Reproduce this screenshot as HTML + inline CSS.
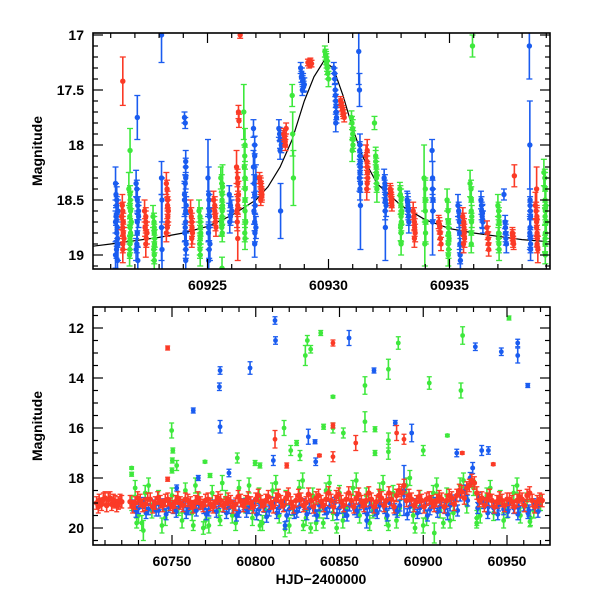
<!DOCTYPE html>
<html><head><meta charset="utf-8"><title>Light curve</title>
<style>
html,body{margin:0;padding:0;background:#fff;}
svg{display:block;font-family:"Liberation Sans",Arial,sans-serif;}
.tl{font-size:14px;font-weight:bold;fill:#000;}
</style></head>
<body>
<svg id="chart" width="600" height="600" viewBox="0 0 600 600" xmlns="http://www.w3.org/2000/svg">
<defs>
<clipPath id="clipTop"><rect x="93" y="33" width="457" height="236"/></clipPath>
<clipPath id="clipBot"><rect x="93" y="307" width="457" height="238"/></clipPath>
</defs>
<rect width="600" height="600" fill="#fff"/>
<g id="topPanel"></g>
<g id="botPanel"></g>
<text class="tl" x="42" y="151" text-anchor="middle" transform="rotate(-90 42 151)">Magnitude</text>
<text class="tl" x="42" y="426" text-anchor="middle" transform="rotate(-90 42 426)">Magnitude</text>
<text class="tl" x="321" y="584" text-anchor="middle">HJD−2400000</text>
</svg>
<script>
// ===== Top panel data (t relative to topBase, magnitude, error) =====
const topBase = 60920;
const modelT = [0.26,1,2,3,4,5,6,7,7.5,8,8.5,9,9.4,9.8,10.2,10.6,11,11.4,12,13,14,15,16,17,18,19.15];
const modelM = [18.92,18.9,18.87,18.84,18.8,18.74,18.64,18.5,18.38,18.2,17.95,17.6,17.38,17.24,17.3,17.55,17.85,18.1,18.35,18.55,18.68,18.76,18.8,18.83,18.86,18.88];
const topBlue = [
[1.2,18.35,.15],[1.25,18.5,.12],[1.3,18.6,.1],[1.2,18.7,.1],[1.25,18.8,.12],[1.3,18.9,.15],[1.2,19.0,.12],[1.28,19.05,.15],[1.22,18.45,.1],[1.27,18.75,.1],
[1.25,18.55,.08],[1.22,18.65,.08],[1.28,18.85,.08],[1.24,18.95,.08],
[2.05,18.35,.12],[2.1,18.5,.1],[2.15,18.65,.1],[2.1,18.8,.12],[2.05,18.95,.1],[2.12,19.05,.12],[2.1,17.75,.2],[2.15,18.6,.08],
[2.08,18.4,.08],[2.12,18.55,.08],[2.1,18.7,.08],[2.08,18.9,.08],
[3.1,17.0,.25],[3.1,18.3,.15],[3.12,18.5,.2],[3.1,18.75,.3],[3.12,18.95,.2],
[4.05,17.75,.05],[4.08,17.8,.05],[4.1,18.15,.1],[4.1,18.3,.1],[4.05,18.45,.12],[4.1,18.6,.1],[4.08,18.75,.12],[4.12,18.9,.1],[4.1,19.05,.1],[4.05,18.5,.15],
[4.1,18.2,.08],[4.08,18.35,.08],[4.12,18.55,.08],[4.1,18.7,.08],[4.06,18.8,.08],[4.1,18.95,.08],
[5.05,18.45,.25],[5.08,18.6,.15],[5.05,18.75,.12],[5.1,18.9,.15],[5.05,19.05,.1],[5.02,18.3,.35],
[5.06,18.5,.08],[5.08,18.65,.08],[5.04,18.8,.08],[5.07,18.95,.08],
[5.9,18.45,.08],[5.95,18.55,.08],[6.0,18.6,.1],[5.95,18.65,.08],[5.92,18.7,.1],
[6.9,17.85,.08],[6.95,18.1,.1],[7.0,18.3,.12],[6.95,18.45,.1],[6.92,18.6,.12],[7.0,18.75,.1],[6.95,18.9,.12],[6.9,18.2,.15],
[6.95,18.0,.08],[6.93,18.35,.08],[6.97,18.55,.08],[6.95,18.7,.08],[6.96,18.8,.08],
[7.95,17.85,.08],[8.0,17.95,.08],[8.05,18.0,.07],[8.0,18.05,.08],[7.98,17.9,.06],[8.02,18.6,.25],
[8.85,17.3,.05],[8.9,17.35,.05],[8.95,17.4,.05],[9.0,17.45,.06],[8.92,17.5,.05],[8.88,17.38,.05],[8.93,17.42,.05],[8.97,17.47,.05],
[10.22,17.3,.05],[10.25,17.35,.05],[10.28,17.5,.06],[10.3,17.6,.06],[10.32,17.7,.07],[10.3,17.8,.08],
[10.26,17.4,.05],[10.29,17.55,.05],[10.31,17.65,.05],[10.33,17.75,.05],
[11.25,17.15,.3],[11.28,17.5,.15],[11.3,18.0,.1],[11.3,18.1,.1],[11.32,18.2,.1],[11.28,18.3,.12],[11.3,18.4,.1],[11.32,18.55,.4],
[11.29,18.05,.08],[11.31,18.15,.08],[11.3,18.25,.08],[11.32,18.35,.08],
[12.3,18.3,.08],[12.32,18.4,.08],[12.35,18.5,.1],[12.38,18.55,.1],[12.35,18.75,.3],[12.33,18.35,.08],[12.36,18.45,.08],[12.34,18.6,.08],
[13.25,18.5,.08],[13.28,18.55,.08],[13.3,18.6,.08],[13.32,18.7,.1],[13.27,18.52,.08],[13.3,18.58,.08],[13.31,18.65,.08],
[14.28,18.05,.1],[14.3,18.3,.15],[14.32,18.5,.1],[14.3,18.7,.3],[14.3,18.4,.08],[14.31,18.6,.08],
[15.35,18.55,.1],[15.4,18.65,.1],[15.42,18.8,.15],[15.45,19.05,.2],[15.38,18.6,.08],[15.41,18.7,.08],[15.43,18.9,.08],[15.44,19.0,.08],
[16.3,18.5,.08],[16.33,18.6,.08],[16.35,18.65,.1],[16.38,18.7,.1],[16.32,18.55,.08],[16.36,18.62,.08],[16.37,18.68,.08],
[17.25,18.45,.05],[17.3,18.7,.06],[17.32,18.8,.08],[17.35,18.9,.08],[17.31,18.75,.06],[17.33,18.85,.06],
[18.3,17.1,.3],[18.32,18.0,.4],[18.33,18.5,.1],[18.35,18.65,.1],[18.32,18.8,.15],[18.35,18.95,.1],
[18.33,18.55,.08],[18.34,18.6,.08],[18.33,18.75,.08],[18.34,18.85,.08],[18.35,18.9,.08]
];
const topRed = [
[1.5,17.42,.22],[1.45,18.65,.12],[1.5,18.75,.1],[1.55,18.85,.1],[1.5,18.95,.12],[1.48,18.55,.1],[1.52,18.7,.08],[1.5,18.6,.08],[1.52,18.8,.08],[1.5,18.9,.08],
[2.4,18.6,.1],[2.45,18.7,.1],[2.5,18.8,.1],[2.45,18.9,.12],[2.42,18.75,.08],[2.45,18.65,.08],[2.47,18.85,.08],
[3.3,18.35,.1],[3.35,18.5,.08],[3.38,18.6,.1],[3.35,18.7,.1],[3.3,18.8,.08],[3.33,18.4,.08],[3.35,18.55,.08],[3.36,18.65,.08],[3.34,18.75,.08],
[4.3,18.6,.1],[4.35,18.7,.08],[4.38,18.8,.1],[4.35,18.85,.08],[4.33,18.65,.08],[4.36,18.75,.08],
[5.25,18.5,.08],[5.3,18.6,.1],[5.32,18.65,.08],[5.35,18.75,.08],[5.3,18.55,.08],[5.33,18.7,.08],
[6.2,18.2,.15],[6.25,18.35,.1],[6.28,18.45,.12],[6.22,18.6,.15],[6.25,18.85,.2],[6.28,17.7,.06],[6.3,17.78,.06],[6.35,17.0,.03],
[6.24,18.3,.08],[6.26,18.5,.08],[6.25,18.55,.08],[6.23,18.7,.08],
[7.15,18.3,.05],[7.2,18.35,.05],[7.22,18.4,.05],[7.25,18.45,.05],[7.2,18.5,.05],[7.18,18.33,.05],[7.21,18.38,.05],[7.23,18.43,.05],[7.24,18.47,.05],
[8.15,17.9,.05],[8.2,17.95,.05],[8.22,18.0,.05],[8.25,17.85,.05],[8.18,17.92,.05],[8.21,17.97,.05],
[9.15,17.25,.03],[9.2,17.27,.03],[9.25,17.24,.03],[9.3,17.26,.03],[9.22,17.25,.03],[9.27,17.26,.03],
[10.5,17.6,.04],[10.55,17.65,.04],[10.6,17.7,.04],[10.65,17.75,.04],[10.53,17.62,.04],[10.58,17.68,.04],[10.62,17.72,.04],
[11.55,18.1,.1],[11.6,18.2,.1],[11.62,18.3,.1],[11.58,18.4,.1],[11.6,18.05,.1],[11.59,18.15,.08],[11.61,18.25,.08],[11.6,18.35,.08],
[12.55,18.4,.05],[12.58,18.45,.05],[12.6,18.5,.05],[12.62,18.55,.05],[12.57,18.42,.05],[12.59,18.48,.05],[12.61,18.52,.05],
[13.5,18.6,.08],[13.55,18.7,.08],[13.58,18.8,.08],[13.55,18.85,.08],[13.53,18.65,.08],[13.56,18.75,.08],
[14.55,18.7,.06],[14.6,18.75,.06],[14.62,18.85,.06],[14.65,18.9,.06],[14.58,18.72,.06],[14.61,18.8,.06],
[15.55,18.65,.08],[15.6,18.75,.08],[15.62,18.85,.08],[15.58,18.9,.08],[15.59,18.7,.08],[15.61,18.8,.08],
[16.55,18.75,.06],[16.6,18.85,.06],[16.62,18.95,.06],[16.58,18.8,.06],[16.61,18.9,.06],
[17.6,18.8,.05],[17.62,18.85,.05],[17.65,18.9,.05],[17.68,18.28,.1],[17.61,18.82,.05],[17.63,18.88,.05],
[18.55,18.55,.12],[18.6,18.7,.15],[18.62,18.8,.12],[18.65,18.95,.12],[18.6,18.4,.2],[18.58,18.6,.08],[18.61,18.65,.08],[18.6,18.75,.08],[18.63,18.85,.08],[18.62,18.9,.08]
];
const topGreen = [
[1.8,18.05,.2],[1.75,18.4,.15],[1.8,18.55,.12],[1.85,18.7,.12],[1.8,18.85,.1],[1.78,19.0,.1],[1.82,18.6,.1],
[1.8,18.45,.08],[1.81,18.5,.08],[1.79,18.65,.08],[1.8,18.75,.08],[1.82,18.8,.08],[1.8,18.9,.08],[1.79,18.95,.08],
[2.75,18.65,.1],[2.8,18.75,.1],[2.82,18.85,.08],[2.78,18.95,.1],[2.8,19.05,.1],[2.79,18.7,.08],[2.8,18.8,.08],[2.81,18.9,.08],[2.8,19.0,.08],
[4.65,18.6,.1],[4.7,18.7,.12],[4.72,18.8,.1],[4.68,18.9,.1],[4.7,19.0,.1],[4.69,18.65,.08],[4.71,18.75,.08],[4.7,18.85,.08],[4.69,18.95,.08],
[5.55,18.3,.1],[5.6,18.45,.1],[5.62,18.55,.1],[5.58,18.7,.12],[5.6,19.12,.1],[5.62,18.38,.2],
[5.59,18.35,.08],[5.6,18.5,.08],[5.61,18.6,.08],[5.6,18.65,.08],[5.59,18.75,.08],[5.61,18.8,.08],
[6.5,17.7,.25],[6.55,18.0,.15],[6.52,18.2,.2],[6.55,18.5,.2],[6.58,18.7,.15],[6.55,18.85,.1],
[6.54,18.1,.08],[6.55,18.3,.08],[6.56,18.4,.08],[6.55,18.6,.08],[6.54,18.8,.08],
[8.5,17.55,.1],[8.52,17.9,.2],[8.55,18.3,.25],
[9.85,17.15,.05],[9.9,17.2,.05],[9.95,17.3,.06],[10.0,17.4,.07],[9.92,17.25,.05],[9.88,17.18,.05],[9.91,17.22,.05],[9.94,17.28,.05],[9.97,17.35,.05],
[10.95,17.75,.06],[11.0,17.85,.08],[11.02,17.95,.08],[10.98,18.05,.1],[10.97,17.8,.06],[11.0,17.9,.06],[11.01,18.0,.06],
[11.9,17.8,.06],[11.95,18.15,.1],[11.98,18.25,.1],[12.0,18.4,.12],[11.95,18.1,.08],[11.97,18.2,.08],[11.98,18.3,.08],[11.99,18.35,.08],
[12.95,18.4,.06],[13.0,18.5,.1],[13.02,18.6,.12],[12.98,18.75,.12],[13.0,18.9,.1],[12.97,18.45,.08],[12.99,18.55,.08],[13.0,18.65,.08],[13.01,18.7,.08],[13.0,18.8,.08],
[13.95,18.3,.3],[14.0,18.5,.2],[14.02,18.7,.2],[13.98,18.9,.2],[14.0,18.4,.08],[14.0,18.6,.08],[14.01,18.8,.08],
[14.9,18.5,.1],[14.95,18.7,.12],[14.98,18.85,.1],[14.95,19.0,.1],[14.94,18.6,.08],[14.95,18.75,.08],[14.96,18.8,.08],[14.95,18.9,.08],[14.96,18.95,.08],
[15.95,17.1,.1],[15.85,18.35,.12],[15.9,18.5,.12],[15.92,18.65,.1],[15.9,18.8,.12],[15.89,18.4,.08],[15.9,18.6,.08],[15.91,18.7,.08],[15.9,18.9,.08],
[17.0,18.55,.1],[17.05,18.7,.1],[17.02,18.85,.1],[17.05,18.95,.1],[17.03,18.6,.08],[17.04,18.65,.08],[17.03,18.8,.08],[17.04,18.9,.08],
[18.9,18.25,.12],[18.95,18.4,.15],[18.98,18.55,.15],[19.0,18.7,.15],[18.95,18.85,.12],
[18.94,18.3,.08],[18.95,18.5,.08],[18.96,18.6,.08],[18.95,18.65,.08],[18.96,18.8,.08],[18.95,18.9,.08],[18.96,19.0,.08]
];
const topXTicks = ["60925","60930","60935"];
const topYTicks = ["17","17.5","18","18.5","19"];

// ===== Bottom panel data =====
const redBand = [
[60705,19.0],[60706.5,18.9],[60708,19.05],[60710,18.8],[60712,18.85],[60714,19.05],[60716,18.95],[60718,19.0],[60720,18.95],
[60706,19.15],[60709,18.85],[60711,19.1],[60713,18.8],[60715,18.9],[60717,19.1],[60719,18.9],
[60725,18.95],[60728,19.0],[60731,18.9],[60734,19.05],[60737,18.85],[60740,19.0],[60743,18.95],[60746,18.9],[60749,19.05],[60752,18.95],
[60755,19.0],[60758,18.85],[60761,19.0],[60764,18.95],[60767,19.0],[60770,18.9],[60773,19.05],[60776,18.95],[60779,18.9],[60782,19.0],
[60785,18.95],[60788,19.05],[60791,18.9],[60794,18.95],[60797,19.0],[60800,18.85],[60803,18.95],[60806,18.9],[60809,19.0],[60812,18.85],
[60815,18.95],[60818,18.8],[60821,19.0],[60824,18.9],[60827,18.85],[60830,19.0],[60833,18.9],[60836,18.8],[60839,18.95],[60842,18.85],
[60845,18.9],[60848,18.75],[60851,18.95],[60854,18.85],[60857,18.9],[60860,18.8],[60863,18.95],[60866,18.9],[60869,18.85],[60872,18.95],
[60875,18.8],[60878,18.9],[60881,18.85],[60884,18.7],[60887,18.6],[60890,18.9],[60893,18.85],[60896,18.95],[60899,18.9],[60902,18.85],
[60905,18.95],[60908,18.9],[60911,18.85],[60914,18.9],[60917,18.8],[60920,18.7],[60923,18.55],[60926,18.4],[60929,18.1],[60932,18.6],
[60935,18.8],[60938,18.85],[60941,18.9],[60944,18.95],[60947,18.9],[60950,18.85],[60953,18.95],[60956,18.9],[60959,18.85],[60962,18.7],
[60965,18.9],[60968,18.95],[60971,18.9],
[60726.5,19.15],[60729.5,18.8],[60732.5,19.1],[60735.5,18.85],[60738.5,19.15],[60741.5,18.8],[60744.5,19.1],[60747.5,18.85],[60750.5,19.15],[60753.5,18.8],
[60756.5,19.1],[60759.5,18.9],[60762.5,19.15],[60765.5,18.8],[60768.5,19.1],[60771.5,18.85],[60774.5,19.15],[60777.5,18.8],[60780.5,19.1],[60783.5,18.85],
[60786.5,19.15],[60789.5,18.75],[60792.5,19.1],[60795.5,18.8],[60798.5,19.15],[60801.5,18.7],[60804.5,19.1],[60807.5,18.75],[60810.5,19.15],[60813.5,18.7],
[60816.5,19.1],[60819.5,18.65],[60822.5,19.15],[60825.5,18.7],[60828.5,19.1],[60831.5,18.65],[60834.5,19.15],[60837.5,18.7],[60840.5,19.1],[60843.5,18.6],
[60846.5,19.15],[60849.5,18.65],[60852.5,19.1],[60855.5,18.6],[60858.5,19.15],[60861.5,18.65],[60864.5,19.1],[60867.5,18.6],[60870.5,19.15],[60873.5,18.7],
[60876.5,19.1],[60879.5,18.6],[60882.5,19.15],[60885.5,18.5],[60888.5,18.3],[60891.5,18.7],[60894.5,19.1],[60897.5,18.75],[60900.5,19.15],[60903.5,18.8],
[60906.5,19.1],[60909.5,18.75],[60912.5,19.15],[60915.5,18.7],[60918.5,19.05],[60921.5,18.5],[60924.5,18.8],[60927.5,18.3],[60930.5,18.2],[60933.5,18.9],
[60936.5,19.1],[60939.5,18.7],[60942.5,19.15],[60945.5,18.8],[60948.5,19.1],[60951.5,18.85],[60954.5,19.15],[60957.5,18.75],[60960.5,19.1],[60963.5,18.6],
[60966.5,19.15],[60969.5,18.85]
];
const redBandErr = 0.25;
const blueBand = [
[60727,19.1],[60730,19.2],[60733,19.0],[60736,19.25],[60739,19.1],[60742,19.3],[60745,19.05],[60748,19.15],[60751,19.2],[60754,19.0],
[60757,19.1],[60760,19.25],[60763,19.15],[60766,19.05],[60769,19.2],[60772,19.3],[60775,19.1],[60778,19.0],[60781,19.15],[60784,19.2],
[60787,19.1],[60790,19.35],[60793,19.05],[60796,19.2],[60799,19.1],[60802,19.25],[60805,19.15],[60808,19.3],[60811,19.0],[60814,19.2],
[60817,19.1],[60820,19.25],[60823,19.4],[60826,19.15],[60829,19.05],[60832,19.2],[60835,19.3],[60838,19.1],[60841,19.25],[60844,19.15],
[60847,19.0],[60850,19.2],[60853,19.35],[60856,19.1],[60859,19.25],[60862,19.05],[60865,19.2],[60868,19.15],[60871,19.3],[60874,19.1],
[60877,19.2],[60880,19.0],[60883,19.25],[60886,19.1],[60888.5,18.5],[60892,19.15],[60895,19.05],[60898,19.2],[60901,19.1],[60904,19.25],
[60907,19.0],[60910,19.15],[60913,19.2],[60916,19.1],[60919,18.9],[60922,18.7],[60925,18.5],[60928,18.0],[60929.5,17.6],[60933,18.8],
[60936,19.0],[60939,19.15],[60942,19.2],[60945,19.1],[60948,19.25],[60951,19.05],[60954,19.2],[60957,19.15],[60960,19.1],[60963,19.3],
[60966,19.05],[60969,19.1],
[60728.5,19.35],[60734.5,19.4],[60740.5,19.3],[60746.5,19.45],[60752.5,19.35],[60758.5,19.4],[60764.5,19.3],[60770.5,19.45],[60776.5,19.35],[60782.5,19.4],
[60788.5,19.5],[60794.5,19.35],[60800.5,19.45],[60806.5,19.55],[60812.5,19.4],[60818.5,19.5],[60824.5,19.35],[60830.5,19.45],[60836.5,19.5],[60842.5,19.4],
[60848.5,19.45],[60854.5,19.5],[60860.5,19.35],[60866.5,19.45],[60872.5,19.4],[60878.5,19.5],[60884.5,19.35],[60890.5,19.45],[60896.5,19.4],[60902.5,19.5],
[60908.5,19.35],[60914.5,19.45],[60920.5,19.3],[60926.5,18.9],[60932.5,19.2],[60938.5,19.4],[60944.5,19.45],[60950.5,19.35],[60956.5,19.45],[60962.5,19.4],[60968.5,19.35]
];
const blueBandErr = 0.22;
const greenBand = [
[60726,19.0],[60730,19.5],[60734,18.6],[60738,19.3],[60742,18.8],[60746,19.6],[60750,18.7],[60754,19.2],[60758,18.5],[60762,19.4],
[60766,18.9],[60770,19.7],[60774,18.6],[60778,19.3],[60782,18.8],[60786,19.5],[60790,18.4],[60794,19.1],[60798,19.6],[60802,18.7],
[60806,19.3],[60810,18.5],[60814,19.5],[60818,18.8],[60822,19.2],[60826,18.4],[60830,19.6],[60834,18.7],[60838,19.3],[60842,18.5],
[60846,19.4],[60850,18.6],[60854,19.2],[60858,18.4],[60862,19.5],[60866,18.7],[60870,19.3],[60874,18.5],[60878,19.6],[60882,18.6],
[60886,19.2],[60890,18.3],[60894,19.5],[60898,18.8],[60902,19.6],[60906,18.6],[60910,19.3],[60914,18.7],[60918,19.4],[60922,18.3],
[60926,19.1],[60930,18.4],[60934,19.5],[60938,18.7],[60942,19.4],[60946,18.8],[60950,19.3],[60954,18.6],[60958,19.5],[60962,18.9],
[60966,19.3],[60970,19.0],
[60728,18.4],[60732,19.8],[60736,18.3],[60744,19.9],[60756,19.7],[60764,18.3],[60772,19.9],[60780,18.2],[60788,19.8],[60796,18.3],
[60804,19.8],[60812,18.2],[60820,19.9],[60828,18.1],[60836,19.8],[60844,18.2],[60852,19.7],[60860,18.1],[60868,19.8],[60876,18.2],
[60884,19.7],[60892,18.0],[60900,19.9],[60908,18.3],[60916,19.7],[60924,18.1],[60932,19.6],[60940,18.4],[60948,19.7],[60956,18.3],[60964,19.6]
];
const greenBandErr = 0.3;
const botBlue = [
[60811.5,11.7,.15],[60811.8,12.5,.15],[60778.7,13.7,.15],[60778.3,14.35,.15],[60778.7,15.95,.25],[60762.7,15.3,.1],[60796.6,13.6,.25],[60855.7,12.4,.3],
[60870.6,13.7,.1],[60931.1,12.75,.15],[60946.6,12.95,.15],[60956.4,12.6,.15],[60956.4,13.1,.3],[60962.4,14.3,.08],[60831.4,16.35,.3],[60835.4,16.55,.08],
[60835.8,17.35,.15],[60883.3,15.8,.1],[60893.1,16.2,.35],[60920,17.0,.15],[60934.9,16.9,.2],[60938.9,16.9,.15],[60810.5,17.3,.2],[60765.7,18.0,.1],
[60752.8,18.4,.12],[60784,17.8,.15],[60866.2,19.7,.3],[60817.5,19.9,.15],[60888.5,18.5,1.0]
];
const botRed = [
[60747.4,12.8,.08],[60846.1,12.6,.12],[60846.1,15.9,.1],[60859.7,16.6,.3],[60884.1,16.2,.3],[60888.5,16.45,.2],[60923.3,17.0,.05],[60941.8,17.45,.05],
[60811.5,16.45,.35],[60818.5,17.5,.1],[60838,17.1,.05],[60747.4,18.05,.08],[60846.1,17.15,.2]
];
const botGreen = [
[60749.8,16.1,.3],[60750.5,16.9,.1],[60750.2,17.3,.1],[60752.8,17.5,.2],[60750,17.7,.1],[60829.6,13.1,.4],[60830.8,12.5,.2],[60832.8,12.85,.15],
[60838.8,12.2,.1],[60846.1,14.75,.05],[60846.1,16.0,.2],[60865.2,14.3,.35],[60879.2,13.65,.4],[60885.1,12.6,.25],[60903.6,14.2,.25],[60923.5,12.3,.35],
[60922.5,14.5,.3],[60951.2,11.6,.08],[60816.9,16.0,.3],[60840.5,15.95,.1],[60852.3,16.2,.2],[60865.2,15.75,.4],[60871.2,16.05,.1],[60871.2,17.0,.1],
[60900,16.9,.2],[60914.4,16.3,.05],[60824.4,16.6,.1],[60820.9,16.9,.2],[60826.4,17.1,.2],[60789,17.2,.2],[60769.7,17.35,.05],[60725.9,17.6,.05],
[60725.9,17.85,.08],[60802.5,17.5,.1],[60799.6,17.4,.1],[60772.7,17.9,.08],[60879.2,16.5,.3],[60879.2,16.95,.3],[60732.9,20.1,.4],[60728.9,19.8,.2],
[60762.7,19.9,.2],[60768.7,20.0,.25],[60778.7,19.7,.2],[60802.5,19.9,.2],[60817.5,20.05,.3],[60828.4,19.9,.2],[60832.8,20.0,.2],[60840.3,19.8,.2],
[60848.3,20.0,.2],[60879.2,19.9,.2],[60895.1,20.0,.2],[60906.6,20.2,.4],[60912,19.8,.2],[60931.9,19.8,.2],[60963.7,19.75,.2]
];
const botXTicks = ["60750","60800","60850","60900","60950"];
const botYTicks = ["12","14","16","18","20"];

// ===== Axis functions =====
const xTop = t => 207.5 + (t - 60925) * 24.2;
const yTop = m => 35 + (m - 17) * 110;
const xBot = t => 172 + (t - 60750) * 1.675;
const yBot = m => 328 + (m - 12) * 25;

const NS = "http://www.w3.org/2000/svg";
const COL = {blue:"#1a5cf0", red:"#fb3a26", green:"#3ee83c"};
function mk(tag, attrs, parent){
  const e = document.createElementNS(NS, tag);
  for (const k in attrs) e.setAttribute(k, attrs[k]);
  parent.appendChild(e);
  return e;
}
function drawPoint(g, x, y, yLo, yHi, color, r, cap, name){
  const pg = mk("g", {}, g);
  
  
  mk("line", {x1:x, x2:x, y1:yLo, y2:yHi, stroke:color, "stroke-width":1.6}, pg);
  mk("line", {x1:x-cap, x2:x+cap, y1:yLo, y2:yLo, stroke:color, "stroke-width":1.3}, pg);
  mk("line", {x1:x-cap, x2:x+cap, y1:yHi, y2:yHi, stroke:color, "stroke-width":1.3}, pg);
  mk("circle", {cx:x, cy:y, r:r, fill:color}, pg);
}
function frame(g, x0, y0, x1, y1){
  const f = mk("rect", {x:x0, y:y0, width:x1-x0, height:y1-y0, fill:"none", stroke:"#000", "stroke-width":1.6}, g);
  
  
}
function tick(g, x1, y1, x2, y2){ mk("line", {x1, y1, x2, y2, stroke:"#000", "stroke-width":1.2}, g); }

// ===== Top panel =====
(function(){
  const P = document.getElementById("topPanel");
  const data = mk("g", {"clip-path":"url(#clipTop)"}, P);
  
  
  let d = "";
  modelT.forEach((t,i) => { d += (i ? "L" : "M") + xTop(topBase + t).toFixed(2) + "," + yTop(modelM[i]).toFixed(2); });
  const ml = mk("path", {d, fill:"none", stroke:"#000", "stroke-width":1.2}, data);
  
  
  const series = [[topBlue, COL.blue, "blue"], [topRed, COL.red, "red"], [topGreen, COL.green, "green"]];
  series.forEach(([arr, c, nm]) => {
    arr.forEach(p => {
      const x = xTop(topBase + p[0]);
      drawPoint(data, x, yTop(p[1]), yTop(p[1] - p[2]), yTop(p[1] + p[2]), c, 2.7, 3, nm + "-point");
    });
  });
  frame(P, 93, 33, 550, 269);
  const ax = mk("g", {}, P);
  
  
  for (let t = 60921; t <= 60939; t++) {
    const x = xTop(t), L = (t % 5 === 0) ? 10 : 5;
    tick(ax, x, 269, x, 269 - L); tick(ax, x, 33, x, 33 + L);
  }
  for (let i = 0; i <= 21; i++) {
    const m = 17 + i * 0.1; const y = yTop(m); if (y > 269) break;
    const L = (i % 5 === 0) ? 10 : 5;
    tick(ax, 93, y, 93 + L, y); tick(ax, 550, y, 550 - L, y);
  }
  topXTicks.forEach(s => {
    const tx = mk("text", {x:xTop(+s), y:290, "text-anchor":"middle", class:"tl"}, ax);
    tx.textContent = s;
    
    
  });
  topYTicks.forEach(s => {
    const tx = mk("text", {x:84, y:yTop(+s) + 5, "text-anchor":"end", class:"tl"}, ax);
    tx.textContent = s;
    
    
  });
})();

// ===== Bottom panel =====
(function(){
  const P = document.getElementById("botPanel");
  const data = mk("g", {"clip-path":"url(#clipBot)"}, P);
  
  
  greenBand.forEach(p => drawPoint(data, xBot(p[0]), yBot(p[1]), yBot(p[1]-greenBandErr), yBot(p[1]+greenBandErr), COL.green, 2.4, 2.5, "green-band-point"));
  botGreen.forEach(p => drawPoint(data, xBot(p[0]), yBot(p[1]), yBot(p[1]-p[2]), yBot(p[1]+p[2]), COL.green, 2.4, 2.5, "green-point"));
  blueBand.forEach(p => drawPoint(data, xBot(p[0]), yBot(p[1]), yBot(p[1]-blueBandErr), yBot(p[1]+blueBandErr), COL.blue, 2.5, 2.5, "blue-band-point"));
  botBlue.forEach(p => drawPoint(data, xBot(p[0]), yBot(p[1]), yBot(p[1]-p[2]), yBot(p[1]+p[2]), COL.blue, 2.4, 2.5, "blue-point"));
  redBand.forEach(p => drawPoint(data, xBot(p[0]), yBot(p[1]), yBot(p[1]-redBandErr), yBot(p[1]+redBandErr), COL.red, 2.8, 2.5, "red-band-point"));
  botRed.forEach(p => drawPoint(data, xBot(p[0]), yBot(p[1]), yBot(p[1]-p[2]), yBot(p[1]+p[2]), COL.red, 2.4, 2.5, "red-point"));
  frame(P, 93, 307, 550, 545);
  const ax = mk("g", {}, P);
  
  
  for (let t = 60710; t <= 60970; t += 10) {
    const x = xBot(t), L = (t % 50 === 0) ? 10 : 5;
    tick(ax, x, 545, x, 545 - L); tick(ax, x, 307, x, 307 + L);
  }
  for (let m = 11.5; m <= 20.5; m += 0.5) {
    const y = yBot(m), L = (m % 2 === 0) ? 10 : 5;
    tick(ax, 93, y, 93 + L, y); tick(ax, 550, y, 550 - L, y);
  }
  botXTicks.forEach(s => {
    const tx = mk("text", {x:xBot(+s), y:566, "text-anchor":"middle", class:"tl"}, ax);
    tx.textContent = s;
    
    
  });
  botYTicks.forEach(s => {
    const tx = mk("text", {x:84, y:yBot(+s) + 5, "text-anchor":"end", class:"tl"}, ax);
    tx.textContent = s;
    
    
  });
})();
</script>
</body></html>
